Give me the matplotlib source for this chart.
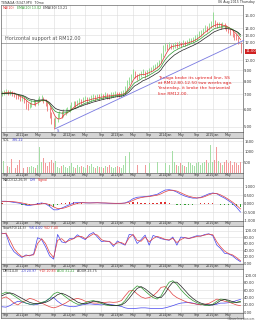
import numpy as np
import pandas as pd
import matplotlib
matplotlib.use("Agg")
import matplotlib.pyplot as plt
import matplotlib.ticker as mticker
import matplotlib.transforms as mtransforms

# ── Data (semi-monthly bars, monthly indicators) ─────────────────────────────
bar_dates = pd.date_range("2010-08-01", periods=121, freq="SMS")
close = [7.05, 7.15, 7.20, 7.10, 7.15, 7.05, 6.95, 6.85, 6.80, 6.70,
         6.75, 6.55, 6.30, 6.15, 6.25, 6.40, 6.45, 6.35, 6.55, 6.70,
         6.75, 6.60, 6.40, 6.10, 5.75, 5.40, 5.10, 5.35, 5.55, 5.70,
         5.65, 5.80, 5.85, 5.95, 6.10, 6.25, 6.35, 6.30, 6.40, 6.55,
         6.50, 6.60, 6.70, 6.55, 6.65, 6.75, 6.80, 6.70, 6.85, 6.80,
         6.90, 6.85, 6.95, 6.90, 6.85, 6.95, 7.00, 7.05, 7.00, 6.95,
         7.05, 7.10, 7.40, 7.80, 8.10, 8.40, 8.80, 8.60, 8.40, 8.55,
         8.70, 8.90, 8.60, 8.75, 9.00, 9.10, 9.25, 9.40, 9.50, 9.70,
         10.40, 11.20, 11.60, 11.40, 11.70, 11.50, 11.60, 11.80, 11.70, 11.90,
         11.80, 12.00, 11.90, 12.10, 12.20, 12.30, 12.40, 12.60, 12.80, 13.10,
         13.30, 13.60, 14.00, 13.80, 14.20, 14.50, 14.80, 14.60, 14.40, 14.50,
         14.30, 14.40, 14.20, 14.00, 13.70, 13.40, 13.20, 12.80, 12.70, 12.20,
         11.00]
low = [6.90, 6.95, 7.00, 6.95, 6.95, 6.90, 6.80, 6.70, 6.65, 6.55,
       6.55, 6.40, 6.00, 5.95, 6.05, 6.15, 6.25, 6.20, 6.30, 6.45,
       6.55, 6.40, 6.20, 5.90, 5.50, 5.15, 4.90, 5.00, 5.25, 5.45,
       5.45, 5.55, 5.65, 5.75, 5.85, 6.00, 6.15, 6.10, 6.20, 6.30,
       6.30, 6.40, 6.50, 6.35, 6.45, 6.55, 6.60, 6.55, 6.65, 6.60,
       6.70, 6.65, 6.75, 6.70, 6.70, 6.75, 6.80, 6.85, 6.85, 6.80,
       6.85, 6.90, 7.05, 7.35, 7.70, 8.00, 8.30, 8.30, 8.10, 8.25,
       8.40, 8.60, 8.35, 8.45, 8.70, 8.85, 9.00, 9.10, 9.20, 9.40,
       9.70, 10.30, 11.00, 11.10, 11.30, 11.20, 11.30, 11.40, 11.40, 11.50,
       11.50, 11.60, 11.60, 11.70, 11.85, 11.95, 12.05, 12.20, 12.40, 12.70,
       12.90, 13.20, 13.50, 13.40, 13.70, 14.00, 14.20, 14.20, 14.00, 14.10,
       13.90, 14.00, 13.80, 13.60, 13.30, 13.00, 12.80, 12.40, 12.30, 11.80,
       10.80]
high = [7.25, 7.35, 7.40, 7.30, 7.30, 7.25, 7.15, 7.05, 7.00, 6.90,
        6.95, 6.80, 6.60, 6.40, 6.45, 6.60, 6.65, 6.60, 6.75, 6.90,
        6.95, 6.85, 6.65, 6.45, 6.15, 5.85, 5.50, 5.55, 5.75, 5.90,
        5.90, 6.00, 6.05, 6.15, 6.30, 6.45, 6.55, 6.55, 6.60, 6.75,
        6.70, 6.80, 6.90, 6.80, 6.85, 6.95, 7.00, 6.95, 7.05, 7.00,
        7.10, 7.05, 7.15, 7.10, 7.05, 7.15, 7.20, 7.25, 7.20, 7.15,
        7.25, 7.30, 7.65, 8.10, 8.40, 8.70, 9.10, 8.95, 8.70, 8.80,
        8.95, 9.15, 8.95, 9.00, 9.25, 9.35, 9.50, 9.65, 9.80, 10.00,
        10.80, 11.70, 12.00, 11.90, 12.10, 11.90, 11.95, 12.10, 12.05, 12.20,
        12.15, 12.30, 12.25, 12.40, 12.55, 12.65, 12.75, 12.95, 13.20, 13.50,
        13.70, 14.00, 14.40, 14.30, 14.70, 15.00, 16.60, 15.20, 14.90, 14.95,
        14.80, 14.85, 14.70, 14.50, 14.20, 13.90, 13.70, 13.30, 13.10, 12.70,
        12.10]
volume = [250, 550, 300, 350, 280, 680, 300, 250, 400, 620, 300,
          250, 350, 300, 280, 350, 300, 250, 400, 1240, 500,
          700, 450, 350, 500, 600, 450, 550, 300, 250, 350,
          400, 300, 250, 350, 450, 300, 250, 400, 300, 350,
          300, 250, 400, 350, 420, 300, 250, 350, 300, 280,
          250, 350, 300, 400, 280, 250, 300, 350, 300, 250,
          400, 800, 600, 980, 700, 450, 500, 400, 650, 500,
          350, 400, 300, 450, 550, 400, 350, 500, 450, 600,
          700, 450, 500, 400, 600, 1040, 500, 400, 350, 450,
          400, 350, 300, 500, 450, 400, 350, 450, 500, 400,
          450, 500, 600, 450, 1320, 500, 600, 1240, 550, 450,
          400, 500, 600, 450, 550, 400, 500, 450, 400, 500]

ind_dates = pd.date_range("2010-08-01", periods=61, freq="MS")
macd_diff = [0.15, 0.15, 0.12, 0.08, 0.05, 0.00, -0.08, -0.10, -0.05, 0.00,
             0.05, 0.00, -0.15, -0.35, -0.35, -0.25, -0.15, -0.05, 0.05, 0.08,
             0.08, 0.05, 0.05, 0.06, 0.06, 0.05, 0.04, 0.03, 0.03, 0.02,
             0.03, 0.05, 0.15, 0.30, 0.38, 0.40, 0.42, 0.45, 0.50, 0.55,
             0.68, 0.80, 0.82, 0.78, 0.68, 0.55, 0.45, 0.38, 0.33, 0.33,
             0.38, 0.48, 0.58, 0.63, 0.58, 0.45, 0.33, 0.18, 0.02, -0.20, -0.48]
macd_signal = [0.12, 0.14, 0.14, 0.12, 0.09, 0.05, 0.00, -0.05, -0.06, -0.04,
               0.00, 0.02, -0.05, -0.18, -0.28, -0.28, -0.22, -0.13, -0.04, 0.03,
               0.06, 0.06, 0.05, 0.05, 0.06, 0.05, 0.05, 0.04, 0.03, 0.03,
               0.03, 0.04, 0.09, 0.20, 0.30, 0.36, 0.40, 0.42, 0.46, 0.50,
               0.58, 0.70, 0.78, 0.79, 0.74, 0.64, 0.53, 0.44, 0.38, 0.34,
               0.35, 0.42, 0.52, 0.60, 0.60, 0.52, 0.40, 0.26, 0.10, -0.08, -0.30]
sto_k = [92, 90, 55, 35, 25, 17, 25, 22, 28, 78,
         72, 50, 22, 12, 88, 65, 62, 75, 75, 87,
         78, 72, 88, 94, 80, 66, 68, 66, 51, 68,
         60, 55, 88, 86, 60, 72, 86, 55, 85, 80,
         75, 72, 70, 80, 55, 80, 78, 75, 80, 84,
         83, 88, 90, 84, 55, 45, 30, 28, 22, 12, 4]
sto_d = [90, 92, 70, 45, 30, 20, 22, 24, 25, 60,
         75, 60, 32, 17, 70, 75, 64, 70, 75, 82,
         82, 75, 82, 90, 86, 72, 67, 67, 56, 62,
         63, 57, 78, 88, 70, 67, 80, 65, 75, 82,
         78, 73, 71, 76, 63, 72, 78, 76, 78, 82,
         83, 86, 89, 87, 65, 50, 37, 29, 25, 17, 7]
minus_di = [15, 14, 18, 25, 30, 28, 25, 22, 20, 22,
            25, 30, 38, 40, 30, 22, 18, 16, 15, 17,
            20, 22, 23, 22, 21, 20, 22, 22, 20, 18,
            16, 12, 10, 10, 11, 12, 12, 11, 10, 10,
            10, 12, 15, 18, 22, 25, 26, 27, 25, 22,
            21, 20, 20, 20, 22, 25, 25, 26, 28, 32, 35]
plus_di = [38, 42, 35, 25, 20, 28, 32, 38, 35, 30,
           25, 20, 15, 12, 15, 20, 25, 32, 35, 38,
           35, 30, 28, 25, 25, 26, 27, 28, 27, 28,
           32, 45, 58, 60, 50, 42, 38, 40, 45, 55,
           68, 70, 60, 48, 40, 35, 30, 26, 24, 22,
           20, 22, 24, 30, 36, 34, 30, 28, 24, 20, 18]
adx = [50, 55, 52, 45, 38, 30, 25, 22, 22, 24,
       27, 30, 38, 50, 55, 50, 42, 34, 27, 22,
       22, 26, 30, 32, 28, 24, 20, 18, 18, 19,
       22, 32, 48, 62, 72, 68, 58, 48, 40, 36,
       45, 65, 82, 86, 76, 62, 50, 40, 32, 26,
       22, 19, 18, 22, 30, 36, 35, 30, 26, 27, 30]
adxr = [45, 50, 53, 50, 44, 38, 32, 27, 24, 23,
        25, 27, 32, 40, 48, 52, 48, 42, 35, 28,
        24, 23, 26, 30, 30, 27, 23, 20, 18, 18,
        20, 26, 38, 52, 65, 70, 64, 55, 46, 40,
        40, 52, 70, 82, 82, 72, 60, 48, 38, 30,
        25, 22, 20, 20, 25, 32, 35, 33, 29, 27, 28]

trend_dates = pd.to_datetime(["2011-09-15", "2015-08-25"])
trend_prices = [4.90, 12.30]
support_level = 12.00
last_close = 11.00

tick_dates = pd.to_datetime(["2010-09-01", "2011-01-01", "2011-05-01", "2011-09-01",
                             "2012-01-01", "2012-05-01", "2012-09-01", "2013-01-01",
                             "2013-05-01", "2013-09-01", "2014-01-01", "2014-05-01",
                             "2014-09-01", "2015-01-01", "2015-05-01"])
tick_labels = ["Sep", "2011Jan", "May", "Sep", "2012Jan", "May", "Sep", "2013Jan",
               "May", "Sep", "2014Jan", "May", "Sep", "2015Jan", "May"]

# ── Figure helpers (positions in pixels of the 256x320 image) ────────────────
W, H = 256, 320
fig = plt.figure(figsize=(W / 100, H / 100), dpi=100)
fig.patch.set_facecolor("white")
X0, X1 = 1, 243
xlim = (pd.Timestamp("2010-07-25"), pd.Timestamp("2015-08-20"))
GRID = "#dcdcdc"
FS_AX = 2.7     # right-hand axis labels
FS_TXT = 2.3    # panel legends / strip labels

def panel(top, bottom, share=None):
    ax = fig.add_axes([X0 / W, 1 - bottom / H, (X1 - X0) / W, (bottom - top) / H], sharex=share)
    ax.set_xlim(*xlim)
    ax.yaxis.tick_right()
    ax.tick_params(axis="y", labelsize=FS_AX, length=0, pad=0.8, colors="#333")
    ax.tick_params(axis="x", length=0, labelbottom=False)
    for s in ax.spines.values():
        s.set_linewidth(0.5)
        s.set_color("#666")
    return ax

def strip(top, bottom, share):
    s = fig.add_axes([X0 / W, 1 - bottom / H, (X1 - X0) / W, (bottom - top) / H], sharex=share)
    s.set_facecolor("#d4d4d4")
    s.set_yticks([])
    s.set_xticks(tick_dates)
    s.set_xticklabels(tick_labels)
    s.tick_params(axis="x", length=0, pad=-3.4, labelsize=FS_TXT, colors="#333")
    for sp in s.spines.values():
        sp.set_linewidth(0.5)
        sp.set_color("#666")
    return s

def grid(ax, yticks):
    for d in tick_dates:
        ax.axvline(d, color=GRID, lw=0.4, zorder=0)
    for y in yticks:
        ax.axhline(y, color=GRID, lw=0.4, zorder=0)

def label_row(ax, items, y=0.99):
    t = ax.text(0.008, y, items[0][0], color=items[0][1], fontsize=FS_TXT,
                transform=ax.transAxes, va="top", ha="left")
    for txt, col in items[1:]:
        t = ax.annotate(txt, xy=(1, 0), xycoords=t, xytext=(1.5, 0),
                        textcoords="offset points", color=col, fontsize=FS_TXT, va="bottom")

def colors_for(vals, up, down):
    out = [up]
    for a, b in zip(vals[:-1], vals[1:]):
        out.append(up if b >= a else down)
    return out

# ── Price panel ────────────────────────────────────────────────────────────
ax = panel(5, 132)
ax.set_yscale("log")
ax.set_ylim(4.73, 17.8)
pticks = [5, 6, 7, 8, 9, 10, 12, 13, 14, 16]
ax.yaxis.set_major_locator(mticker.FixedLocator(pticks))
ax.yaxis.set_minor_locator(mticker.NullLocator())
ax.yaxis.set_major_formatter(mticker.FuncFormatter(lambda v, p: f"{v:.2f}"))
grid(ax, pticks)

bar_cols = colors_for(close, "#86d886", "#ec7070")
ax.vlines(bar_dates, low, high, colors=bar_cols, lw=0.6, zorder=2)
s = pd.Series(close, index=bar_dates)
ax.plot(bar_dates, s.rolling(5, min_periods=1).mean(), color="#e03030", lw=0.5, zorder=3)
ax.plot(bar_dates, s.ewm(span=10, adjust=False).mean(), color="#2f9a2f", lw=0.5, zorder=3)
ax.plot(bar_dates, s.ewm(span=15, adjust=False).mean(), color="#222222", lw=0.5, zorder=3)

ax.axhline(support_level, color="#8c8c8c", lw=0.5, zorder=1)
ax.plot(trend_dates, trend_prices, color="#7878e0", lw=0.6, zorder=4, clip_on=False)
ax.text(pd.Timestamp("2011-10-05"), 4.80, "S", color="#5050d0", fontsize=FS_AX, ha="center", va="center")

ax.text(pd.Timestamp("2010-08-25"), 12.5, "Horizontal support at RM12.00",
        color="#555", fontsize=3.5, va="center")
ax.text(pd.Timestamp("2013-11-10"), 8.45,
        "Tenaga broke its uptrend line, SS\nat RM12.80-12.50 two weeks ago.\n"
        "Yesterday, it broke the horizontal\nline RM12.00.",
        color="#e02020", fontsize=3.2, va="top", ha="left", linespacing=1.35)

tr = mtransforms.blended_transform_factory(ax.transAxes, ax.transData)
ax.text(1.012, last_close, f"{last_close:.2f}", transform=tr, fontsize=FS_AX, color="white",
        va="center", ha="left", clip_on=False,
        bbox=dict(boxstyle="square,pad=0.15", fc="#d02020", ec="none"))
label_row(ax, [("MA(10)", "#e03030"), ("EMA(20) 13.02", "#2f9a2f"), ("EMA(30) 13.21", "#333")])

fig.text(1 / W, 1 - 2.5 / H, "TENAGA (5347.MY)  70mo", fontsize=FS_TXT, color="#333", va="center")
fig.text(255 / W, 1 - 2.5 / H, "06 Aug 2015 Thursday", fontsize=FS_TXT, color="#333",
         va="center", ha="right")

strip(132, 138, ax)

# ── Volume panel ───────────────────────────────────────────────────────────
av = panel(138, 173, ax)
av.set_ylim(0, 1650)
vticks = [500, 1000, 1500]
av.set_yticks(vticks)
av.set_yticklabels([f"{v}" for v in vticks])
grid(av, vticks)
av.bar(bar_dates, volume, width=6, color=colors_for(close, "#a6dea6", "#f29a9a"), zorder=2)
label_row(av, [("VOL", "#333"), ("386.22", "#4040d0")])
strip(173, 178, ax)

# ── MACD panel ─────────────────────────────────────────────────────────────
am = panel(178, 221, ax)
am.set_ylim(-1.0, 1.5)
mticks = [-1.0, -0.5, 0.0, 0.5, 1.0]
am.set_yticks(mticks)
am.set_yticklabels([f"{v:.3f}" for v in mticks])
grid(am, mticks)
hist = np.array(macd_diff) - np.array(macd_signal)
am.bar(ind_dates, hist, width=10, color=["#e03030" if h > 0 else "#30a030" for h in hist], zorder=2)
am.plot(ind_dates, macd_diff, color="#4444ee", lw=0.5, zorder=3)
am.plot(ind_dates, macd_signal, color="#e04040", lw=0.5, zorder=3)
label_row(am, [("MACD(12,26,9)", "#333"), ("Diff", "#4040d0"), ("Signal", "#e03030")])
strip(221, 226, ax)

# ── Slow stochastic panel ──────────────────────────────────────────────────
ak = panel(226, 264, ax)
ak.set_ylim(-3, 114)
kticks = [0, 20, 40, 60, 80, 100]
ak.set_yticks(kticks)
ak.set_yticklabels([f"{v:.2f}" for v in kticks])
grid(ak, kticks)
ak.plot(ind_dates, sto_k, color="#4444ee", lw=0.5, zorder=3)
ak.plot(ind_dates, sto_d, color="#e04040", lw=0.5, zorder=3)
label_row(ak, [("SlowSTO(14,3)", "#333"), ("%K 4.00", "#4040d0"), ("%D 7.40", "#e03030")])
strip(264, 269, ax)

# ── DMI panel ──────────────────────────────────────────────────────────────
ad = panel(269, 313, ax)
ad.set_ylim(-2, 118)
dticks = [0, 20, 40, 60, 80, 100]
ad.set_yticks(dticks)
ad.set_yticklabels([f"{v:.2f}" for v in dticks])
grid(ad, dticks)
ad.plot(ind_dates, minus_di, color="#4444ee", lw=0.5, zorder=3)
ad.plot(ind_dates, plus_di, color="#e04040", lw=0.5, zorder=3)
ad.plot(ind_dates, adx, color="#2f9a2f", lw=0.5, zorder=3)
ad.plot(ind_dates, adxr, color="#222222", lw=0.5, zorder=3)
label_row(ad, [("DMI(14,0)", "#333"), ("-DI 20.97", "#4040d0"), ("+DI 10.83", "#e03030"),
               ("ADX 31.22", "#2f9a2f"), ("ADXR 25.75", "#333")])
strip(313, 318, ax)
fig.text(255 / W, 1 - 319 / H, "©ShareInvestor.com", fontsize=2.0, color="#555", ha="right", va="center")

fig.savefig("out.png", dpi=100)
